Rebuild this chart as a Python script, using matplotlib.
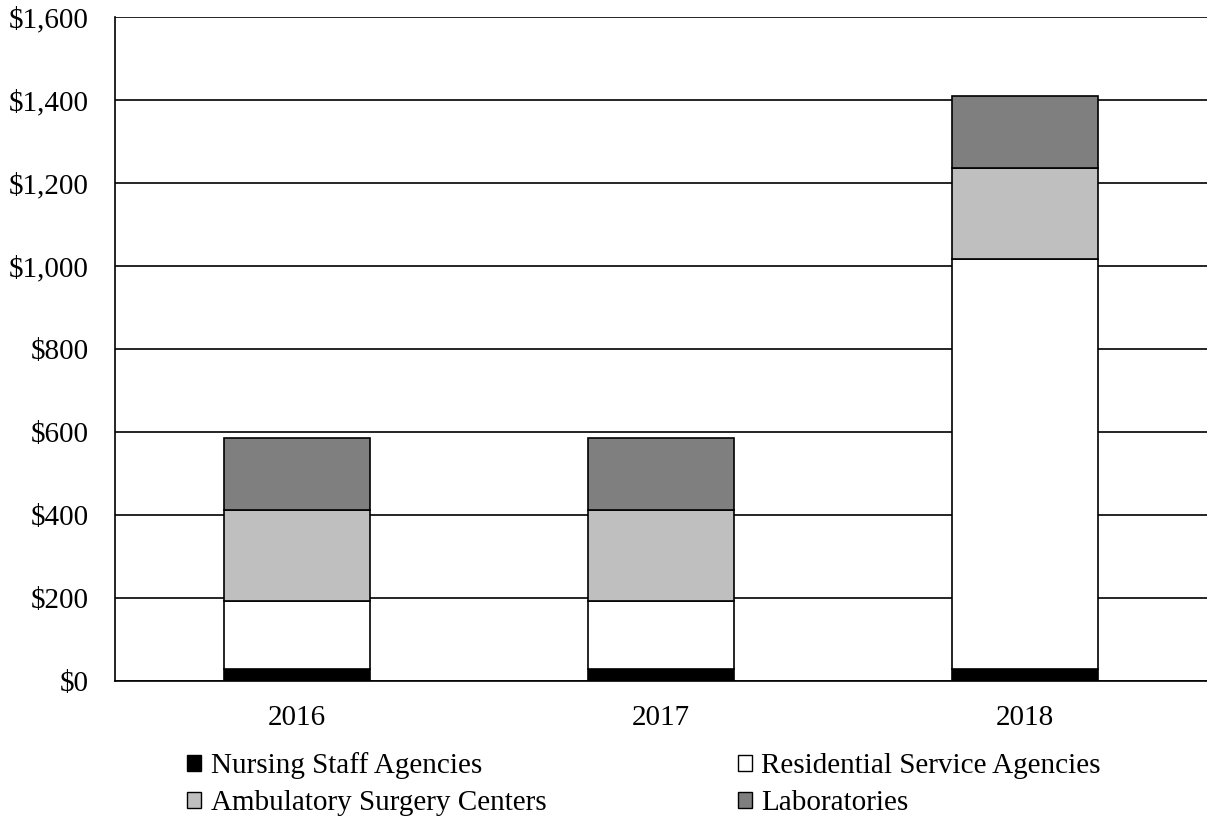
import matplotlib.pyplot as plt
import numpy as np
from matplotlib.patches import Patch
from matplotlib.ticker import FuncFormatter

plt.rcParams["font.family"] = ["Liberation Serif", "DejaVu Serif"]

years = ["2016", "2017", "2018"]
nursing_staff = [30, 30, 30]
residential_service = [163, 163, 987]
ambulatory_surgery = [219, 219, 218]
laboratories = [173, 173, 174]

series = [
    ("Nursing Staff Agencies", nursing_staff, "#000000"),
    ("Residential Service Agencies", residential_service, "#ffffff"),
    ("Ambulatory Surgery Centers", ambulatory_surgery, "#bfbfbf"),
    ("Laboratories", laboratories, "#7f7f7f"),
]

fig = plt.figure(figsize=(12.07, 8.25), dpi=100)
ax = fig.add_axes([0.0953, 0.1745, 0.9047, 0.8049])

x = np.arange(len(years))
bottom = np.zeros(len(years))
handles = {}
for name, values, color in series:
    ax.bar(x, values, width=0.40, bottom=bottom, color=color,
           edgecolor="black", linewidth=1.2, zorder=3)
    bottom += np.array(values)
    handles[name] = Patch(facecolor=color, edgecolor="black", linewidth=1.0)

ax.set_xlim(-0.5, len(years) - 0.5)
ax.set_ylim(0, 1600)
ax.set_yticks(np.arange(0, 1601, 200))
ax.yaxis.set_major_formatter(FuncFormatter(lambda v, _: f"${v:,.0f}"))
ax.set_xticks(x)
ax.set_xticklabels(years)
ax.tick_params(axis="both", length=0, labelsize=21)
ax.tick_params(axis="x", pad=17)
ax.tick_params(axis="y", pad=19)

ax.grid(axis="y", color="black", linewidth=1.2, zorder=0)
for side in ("top", "right"):
    ax.spines[side].set_visible(False)
for side in ("left", "bottom"):
    ax.spines[side].set_linewidth(1.2)
    ax.spines[side].set_color("black")

# column-major order so rows read Nursing/Residential, Ambulatory/Laboratories
order = ["Nursing Staff Agencies", "Ambulatory Surgery Centers",
         "Residential Service Agencies", "Laboratories"]
fig.legend([handles[n] for n in order], order, ncol=2, frameon=False,
           loc="upper left", bbox_to_anchor=(0.155, 0.088),
           fontsize=21, handlelength=0.48, handleheight=0.48,
           handletextpad=0.33, columnspacing=6.56, labelspacing=0.37,
           borderaxespad=0, borderpad=0)

fig.savefig("out.png", dpi=100)
